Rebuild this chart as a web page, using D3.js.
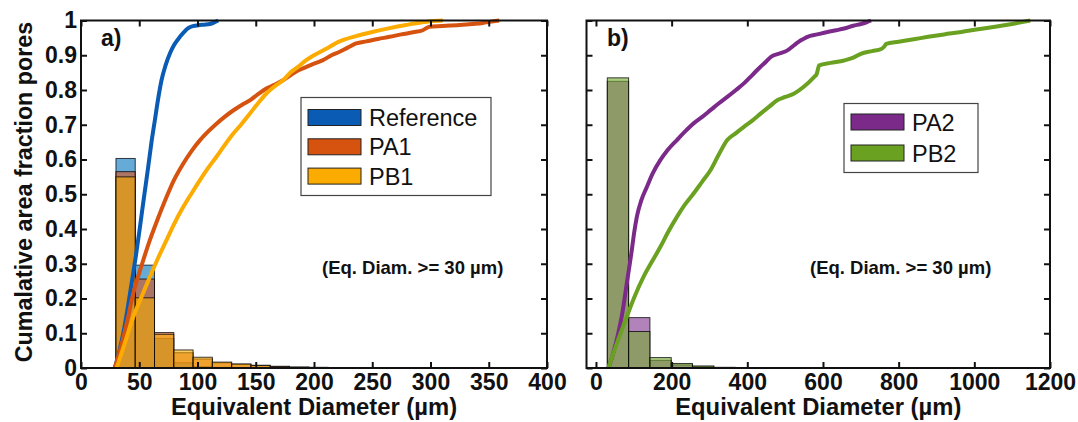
<!DOCTYPE html>
<html><head><meta charset="utf-8">
<script src="https://cdn.jsdelivr.net/npm/d3@7"></script>
<style>body{margin:0;background:#fff} text{font-family:"Liberation Sans",Arial,sans-serif}</style>
</head><body><svg id="c" width="1078" height="422"></svg>
<script>
// ---------- DATA ----------
const leftXTicks = [0, 50, 100, 150, 200, 250, 300, 350, 400];
const rightXTicks = [0, 200, 400, 600, 800, 1000, 1200];
const yTicks = [0, 0.1, 0.2, 0.3, 0.4, 0.5, 0.6, 0.7, 0.8, 0.9, 1];
const yTickLabels = ["0", "0.1", "0.2", "0.3", "0.4", "0.5", "0.6", "0.7", "0.8", "0.9", "1"];

const leftSeries = ["Reference", "PA1", "PB1"];
const rightSeries = ["PA2", "PB2"];

// histogram bins (start, width) and bar heights
const leftBinStart = 30, leftBinWidth = 16.55;
const histReference = [0.603, 0.296, 0.085, 0.015, 0.004, 0.002];
const histPA1 = [0.565, 0.256, 0.102, 0.044, 0.026, 0.015, 0.011, 0.008, 0.005, 0.003, 0.002, 0.001, 0.001];
const histPB1 = [0.55, 0.202, 0.097, 0.052, 0.031, 0.017, 0.0115, 0.007, 0.004, 0.002, 0.001, 0.001];

const rightBinStart = 30, rightBinWidth = 56.3;
const histPA2 = [0.825, 0.145, 0.022, 0.009, 0.004, 0.001];
const histPB2 = [0.835, 0.105, 0.03, 0.013, 0.006, 0.002, 0.001];

// cumulative curves [diameter, cumulative fraction]
const cumReference = [[29,0],[33,0.05],[36.3,0.1],[40,0.17],[43.4,0.243],[47,0.32],[50.6,0.406],[54,0.49],[57.7,0.579],[60.5,0.65],[63.4,0.713],[66,0.77],[69.1,0.828],[72.5,0.87],[76.3,0.905],[80,0.93],[84.9,0.953],[88,0.965],[92,0.978],[96,0.984],[102,0.987],[106,0.988],[110.6,0.99],[114,0.994],[117.7,1]];
const cumPA1 = [[29,0],[35,0.07],[40,0.14],[44.9,0.215],[52,0.295],[59.1,0.368],[66,0.43],[73.4,0.492],[80,0.542],[87.7,0.588],[95,0.625],[102,0.655],[109,0.68],[116.3,0.703],[123,0.722],[130.6,0.741],[138,0.757],[144.9,0.77],[152,0.788],[159.1,0.804],[166,0.815],[173.4,0.828],[180,0.843],[186.3,0.856],[193,0.866],[200,0.876],[207.7,0.886],[215,0.9],[222,0.91],[229,0.922],[236.3,0.934],[245,0.94],[255,0.947],[264.9,0.953],[275,0.96],[285,0.966],[293.4,0.972],[299,0.982],[310,0.984],[325,0.987],[336,0.99],[345,0.993],[350.6,0.996],[359,1]];
const cumPB1 = [[30.6,0],[38,0.075],[44.9,0.147],[52,0.205],[59.1,0.262],[66,0.315],[73.4,0.368],[80,0.415],[87.7,0.463],[95,0.503],[102,0.54],[109,0.575],[116.3,0.608],[123,0.64],[130.6,0.674],[138,0.703],[144.9,0.732],[152,0.762],[159.1,0.79],[166,0.81],[173.4,0.828],[180,0.851],[186,0.866],[193,0.885],[200,0.9],[210,0.918],[222,0.94],[236,0.955],[250,0.967],[265,0.978],[279,0.987],[293,0.995],[300,0.998],[310.6,1]];
const cumPA2 = [[32.7,0],[45,0.04],[59,0.1],[70,0.16],[81.4,0.243],[88,0.29],[94.7,0.339],[101,0.39],[108,0.435],[120,0.483],[134.5,0.521],[150,0.56],[170,0.598],[190,0.628],[214,0.656],[235,0.68],[258,0.704],[280,0.722],[302.6,0.742],[325,0.762],[347,0.78],[370,0.8],[391,0.819],[413,0.843],[435,0.867],[450,0.882],[462,0.895],[485,0.905],[506,0.914],[525,0.93],[541.6,0.943],[550,0.948],[559,0.953],[585,0.96],[612,0.967],[635,0.972],[656,0.977],[680,0.985],[700,0.99],[715,0.995],[727,1]];
const cumPB2 = [[32.7,0],[55,0.07],[81.4,0.147],[100,0.2],[125.6,0.262],[150,0.31],[170,0.348],[190,0.39],[214,0.435],[235,0.47],[258,0.502],[280,0.535],[302.6,0.569],[325,0.615],[347,0.656],[370,0.676],[391,0.694],[413,0.712],[435,0.732],[458,0.752],[480,0.771],[500,0.78],[524,0.79],[550,0.81],[577,0.838],[583,0.845],[590,0.871],[620,0.878],[656,0.885],[680,0.893],[700,0.904],[730,0.912],[754,0.918],[762,0.925],[767,0.933],[800,0.939],[840,0.946],[878,0.953],[920,0.96],[966,0.967],[1010,0.975],[1055,0.982],[1100,0.99],[1148,1]];

const annotation = "(Eq. Diam. >= 30 \u00b5m)";
const xTitle = "Equivalent Diameter (\u00b5m)";
const yTitle = "Cumalative area fraction pores";

// ---------- STYLE ----------
const colors = {Reference: "#0a5bb4", PA1: "#d6520f", PB1: "#fcac00", PA2: "#7b2a8a", PB2: "#6aa121"};
const histColors = {Reference: "#0072bd", PA1: "#d95319", PB1: "#f5a800", PA2: "#7e2f8e", PB2: "#77ac30"};

const svg = d3.select("#c");
const yTopPx = 20.5, yBotPx = 368;
const y = d3.scaleLinear().domain([0, 1]).range([yBotPx, yTopPx]);

function panel(opt) {
  const x = d3.scaleLinear().domain(opt.domain).range(opt.range);
  const g = svg.append("g");
  const [x0, x1] = opt.range;
  // histograms
  opt.hists.forEach(h => {
    g.append("g").selectAll("rect").data(h.values).join("rect")
      .attr("x", (d, i) => x(opt.binStart + i * opt.binWidth))
      .attr("width", (d, i) => x(opt.binStart + (i + 1) * opt.binWidth) - x(opt.binStart + i * opt.binWidth))
      .attr("y", d => y(d))
      .attr("height", d => y(0) - y(d))
      .attr("fill", histColors[h.name]).attr("fill-opacity", 0.6)
      .attr("stroke", "#000").attr("stroke-opacity", 0.75).attr("stroke-width", 1);
  });
  // curves
  const line = d3.line().x(d => x(d[0])).y(d => y(d[1])).curve(d3.curveMonotoneX);
  opt.curves.forEach(c => {
    g.append("path").datum(c.values).attr("d", line)
      .attr("fill", "none").attr("stroke", colors[c.name]).attr("stroke-width", 4)
      .attr("stroke-linejoin", "round").attr("stroke-linecap", "butt");
  });
  // axes
  const fmt = d => yTickLabels[yTicks.indexOf(d)];
  const ax = (a) => a.call(s => s.select(".domain").remove())
      .call(s => s.selectAll("line").attr("stroke", "#111").attr("stroke-width", 2))
      .call(s => s.selectAll("text").attr("font-size", 23).attr("font-weight", "bold").attr("fill", "#111")
        .attr("font-family", '"Liberation Sans", Arial, sans-serif'));
  g.append("g").attr("transform", `translate(0,${yBotPx})`)
    .call(d3.axisBottom(x).tickValues(opt.xTicks).tickSizeInner(-6).tickSizeOuter(0).tickPadding(6).tickFormat(d3.format("d"))).call(ax);
  g.append("g").attr("transform", `translate(0,${yTopPx})`)
    .call(d3.axisTop(x).tickValues(opt.xTicks).tickSizeInner(-6).tickSizeOuter(0).tickFormat("")).call(ax);
  g.append("g").attr("transform", `translate(${x0},0)`)
    .call(d3.axisLeft(y).tickValues(yTicks).tickSizeInner(-6).tickSizeOuter(0).tickPadding(4).tickFormat(opt.yLabels ? fmt : "")).call(ax);
  g.append("g").attr("transform", `translate(${x1},0)`)
    .call(d3.axisRight(y).tickValues(yTicks).tickSizeInner(-6).tickSizeOuter(0).tickFormat("")).call(ax);
  g.append("rect").attr("x", x0).attr("y", yTopPx).attr("width", x1 - x0).attr("height", yBotPx - yTopPx)
    .attr("fill", "none").attr("stroke", "#111").attr("stroke-width", 2);
  // panel letter
  g.append("text").attr("x", opt.letterX).attr("y", 46).text(opt.letter)
    .attr("font-size", 23).attr("font-weight", "bold").attr("fill", "#111");
  // x title
  g.append("text").attr("x", (x0 + x1) / 2).attr("y", 415).attr("text-anchor", "middle").text(xTitle)
    .attr("font-size", 23.8).attr("font-weight", "bold").attr("fill", "#111");
  // annotation
  g.append("text").attr("x", opt.annX).attr("y", 274).text(annotation)
    .attr("font-size", 18.5).attr("font-weight", "bold").attr("fill", "#111");
  // legend
  const L = opt.legend;
  const lg = g.append("g");
  lg.append("rect").attr("x", L.x).attr("y", L.y).attr("width", L.w).attr("height", L.h)
    .attr("fill", "#fff").attr("stroke", "#444").attr("stroke-width", 1.2);
  L.names.forEach((n, i) => {
    const cy = L.y + L.first + i * L.step;
    lg.append("rect").attr("x", L.x + 7).attr("y", cy - 8).attr("width", 53).attr("height", 16)
      .attr("fill", colors[n]).attr("stroke", "#222").attr("stroke-width", 1);
    lg.append("text").attr("x", L.x + 68).attr("y", cy + 8.5).text(n)
      .attr("font-size", 23.5).attr("fill", "#111");
  });
}

panel({
  domain: [0, 400], range: [81, 547], xTicks: leftXTicks, yLabels: true,
  binStart: leftBinStart, binWidth: leftBinWidth,
  hists: [{name: "Reference", values: histReference}, {name: "PA1", values: histPA1}, {name: "PB1", values: histPB1}],
  curves: [{name: "Reference", values: cumReference}, {name: "PA1", values: cumPA1}, {name: "PB1", values: cumPB1}],
  letter: "a)", letterX: 101, annX: 322,
  legend: {x: 301, y: 97.5, w: 190, h: 98, first: 20, step: 29.3, names: leftSeries}
});
panel({
  domain: [-25, 1200], range: [586.5, 1050], xTicks: rightXTicks, yLabels: false,
  binStart: rightBinStart, binWidth: rightBinWidth,
  hists: [{name: "PA2", values: histPA2}, {name: "PB2", values: histPB2}],
  curves: [{name: "PA2", values: cumPA2}, {name: "PB2", values: cumPB2}],
  letter: "b)", letterX: 607, annX: 810,
  legend: {x: 844, y: 103.5, w: 134, h: 69, first: 18.5, step: 31, names: rightSeries}
});

// y title
svg.append("text").attr("transform", "translate(32,192) rotate(-90)").attr("text-anchor", "middle")
  .text(yTitle).attr("font-size", 23.3).attr("font-weight", "bold").attr("fill", "#111");
</script></body></html>
